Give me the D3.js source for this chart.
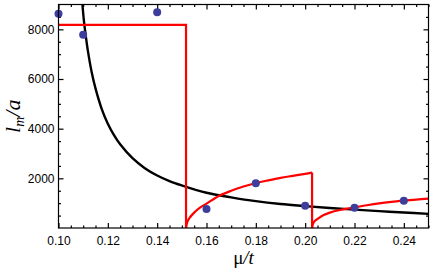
<!DOCTYPE html>
<html>
<head>
<meta charset="utf-8">
<script src="https://cdn.jsdelivr.net/npm/d3@7"></script>
<style>
	body { margin: 0; background: #fff; }
	svg { display: block; }
	.tick text { font-family: "Liberation Sans", Arial, sans-serif; font-size: 12px; fill: #000; }
	.tick line { stroke: #000; stroke-width: 1.2; }
	.label { font-family: "Liberation Serif", "Times New Roman", serif; fill: #000; }
</style>
</head>
<body>
<svg id="svg"></svg>
<script>
// values (mu/t, l_m/a)
const blackCurve = [
	[0.1097, 9000], [0.1103, 8350], [0.111, 7780], [0.112, 7080], [0.1135, 6250],
	[0.115, 5620], [0.1175, 4800], [0.12, 4200], [0.1225, 3740], [0.125, 3370],
	[0.13, 2810], [0.135, 2410], [0.14, 2115], [0.145, 1890], [0.15, 1715],
	[0.16, 1420], [0.17, 1235], [0.18, 1080], [0.19, 965], [0.20, 880],
	[0.21, 805], [0.22, 740], [0.23, 680], [0.24, 625], [0.25, 568]
];
const redStep = [[0.10, 8180], [0.1517, 8180], [0.1517, 0]];
const redArc1 = [
	[0.1517, 0], [0.1522, 240], [0.153, 390], [0.155, 620], [0.1575, 830],
	[0.16, 980], [0.165, 1290], [0.17, 1500], [0.175, 1670], [0.18, 1810],
	[0.185, 1920], [0.19, 2020], [0.195, 2100], [0.20, 2180], [0.2028, 2230]
];
const redDrop = [[0.2028, 2230], [0.2028, 0]];
const redArc2 = [
	[0.2028, 0], [0.2032, 180], [0.204, 290], [0.2055, 400], [0.2075, 520],
	[0.21, 620], [0.2141, 725], [0.22, 830], [0.225, 915], [0.23, 990],
	[0.235, 1050], [0.24, 1100], [0.245, 1145], [0.25, 1185]
];
const dots = [
	[0.10, 8625], [0.11, 7780], [0.14, 8690], [0.16, 770],
	[0.18, 1800], [0.20, 900], [0.22, 815], [0.24, 1095]
];
const xMajor = [0.10, 0.12, 0.14, 0.16, 0.18, 0.20, 0.22, 0.24];
const yMajor = [2000, 4000, 6000, 8000];

const margin = { top: 4.5, right: 7.5, bottom: 44, left: 58.5 };
const width = 436 - margin.left - margin.right;
const height = 272 - margin.top - margin.bottom;

const x = d3.scaleLinear().domain([0.10, 0.25]).range([0, width]);
const y = d3.scaleLinear().domain([0, 9000]).range([height, 0]);

const xMinor = d3.range(0.100, 0.2501, 0.005).filter(v => !xMajor.some(m => Math.abs(m - v) < 1e-6));
const yMinor = d3.range(500, 9000, 500).filter(v => v % 2000 !== 0);

const svg = d3.select('#svg').attr('width', 436).attr('height', 272);
const g = svg.append('g').attr('transform', `translate(${margin.left}, ${margin.top})`);

svg.append('defs').append('clipPath').attr('id', 'clip')
	.append('rect').attr('width', width).attr('height', height + 1).attr('y', -0.5);

// ticks point inward on all four sides
function addAxis(axis, tx, ty) {
	const a = g.append('g').attr('transform', `translate(${tx}, ${ty})`).call(axis);
	a.select('.domain').remove();
	return a;
}
addAxis(d3.axisBottom(x).tickValues(xMajor).tickFormat(d3.format('.2f')).tickSizeInner(-5).tickSizeOuter(0).tickPadding(8), 0, height);
addAxis(d3.axisBottom(x).tickValues(xMinor).tickFormat('').tickSizeInner(-2.5).tickSizeOuter(0), 0, height);
addAxis(d3.axisTop(x).tickValues(xMajor).tickFormat('').tickSizeInner(-5).tickSizeOuter(0), 0, 0);
addAxis(d3.axisTop(x).tickValues(xMinor).tickFormat('').tickSizeInner(-2.5).tickSizeOuter(0), 0, 0);
addAxis(d3.axisLeft(y).tickValues(yMajor).tickFormat(d3.format('d')).tickSizeInner(-5).tickSizeOuter(0).tickPadding(4), 0, 0);
addAxis(d3.axisLeft(y).tickValues(yMinor).tickFormat('').tickSizeInner(-2.5).tickSizeOuter(0), 0, 0);
addAxis(d3.axisRight(y).tickValues(yMajor).tickFormat('').tickSizeInner(-5).tickSizeOuter(0), width, 0);
addAxis(d3.axisRight(y).tickValues(yMinor).tickFormat('').tickSizeInner(-2.5).tickSizeOuter(0), width, 0);

const plot = g.append('g').attr('clip-path', 'url(#clip)');
const smooth = d3.line().x(d => x(d[0])).y(d => y(d[1])).curve(d3.curveCatmullRom);
const straight = d3.line().x(d => x(d[0])).y(d => y(d[1]));

plot.append('path').attr('d', smooth(blackCurve))
	.attr('fill', 'none').attr('stroke', '#000').attr('stroke-width', 2.4);

[redStep, redDrop].forEach(seg => plot.append('path').attr('d', straight(seg))
	.attr('fill', 'none').attr('stroke', '#ff0000').attr('stroke-width', 2.2));
[redArc1, redArc2].forEach(seg => plot.append('path').attr('d', smooth(seg))
	.attr('fill', 'none').attr('stroke', '#ff0000').attr('stroke-width', 2.2));

g.selectAll('circle.dot').data(dots).enter().append('circle')
	.attr('class', 'dot')
	.attr('cx', d => x(d[0])).attr('cy', d => y(d[1])).attr('r', 4)
	.attr('fill', '#3d3d9c');

// frame
g.append('rect').attr('width', width).attr('height', height)
	.attr('fill', 'none').attr('stroke', '#000').attr('stroke-width', 1.2);

// axis labels
const xl = svg.append('text').attr('class', 'label')
	.attr('x', margin.left + width / 2).attr('y', 264)
	.attr('text-anchor', 'middle').style('font-size', '19px');
xl.append('tspan').text('μ');
xl.append('tspan').style('font-style', 'italic').text('/t');

const yl = svg.append('text').attr('class', 'label')
	.attr('transform', `translate(20, ${margin.top + height / 2}) rotate(-90)`)
	.attr('text-anchor', 'middle').style('font-size', '22px').style('font-style', 'italic');
yl.append('tspan').text('l');
yl.append('tspan').attr('dy', 4).style('font-size', '14px').text('m');
yl.append('tspan').attr('dy', -4).text('/a');
</script>
</body>
</html>
